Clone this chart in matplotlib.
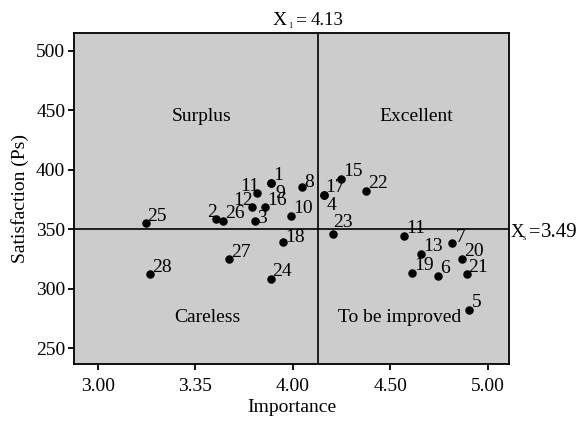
import numpy as np
import matplotlib
matplotlib.use('Agg')
import matplotlib.pyplot as plt
import matplotlib.transforms as mtransforms

# importance-performance data
labels = ['25', '2', '26', '12', '11', '1', '9', '16', '3', '10', '8', '17', '4',
          '15', '22', '23', '18', '27', '28', '24',
          '11', '7', '13', '20', '19', '6', '21', '5']
importance = [3.245, 3.605, 3.641, 3.789, 3.815, 3.888, 3.888, 3.857, 3.805, 3.990,
              4.047, 4.158, 4.158, 4.248, 4.377, 4.207, 3.948, 3.675, 3.268, 3.886,
              4.570, 4.817, 4.659, 4.869, 4.614, 4.746, 4.891, 4.906]
satisfaction = [355.0, 358.3, 356.9, 368.4, 380.2, 388.9, 388.9, 368.4, 357.2, 361.4,
                385.5, 378.8, 378.8, 392.2, 382.4, 346.3, 339.6, 324.8, 312.2, 308.5,
                344.3, 338.5, 329.2, 325.3, 313.5, 311.0, 312.2, 282.4]

x_mean = 4.13
y_line = 350
xtick_pos = [3.0, 3.5, 4.0, 4.5, 5.0]
xtick_labels = ['3.00', '3.35', '4.00', '4.50', '5.00']
ytick_pos = [250, 300, 350, 400, 450, 500]

quadrants = ['Surplus', 'Excellent', 'Careless', 'To be improved']
quad_x = [3.534, 4.635, 3.564, 4.547]
quad_y = [445, 444.5, 275.5, 276]

plt.rcParams['font.family'] = ['Liberation Serif', 'DejaVu Serif']
fs = 14
PX = 0.72  # points per pixel at dpi 100

fig = plt.figure(figsize=(5.82, 4.22), dpi=100)
ax = fig.add_axes([0.1277, 0.1367, 0.7469, 0.7844])
ax.set_facecolor('#cccccc')

ax.axvline(x_mean, color='black', lw=1.2, zorder=1)
ax.axhline(y_line, color='black', lw=1.2, zorder=1)

ax.scatter(importance, satisfaction, s=26, color='black', zorder=3)

# label offsets in points (ha, dx, dy) - default upper right of the dot
special = {6: ('left', 3, -10.5), 12: ('left', 2, -10.5), 4: ('right', 1.5, 2),
           3: ('right', 1, 1.5), 1: ('right', 1, 2), 8: ('left', 2, -2),
           10: ('left', 1.5, 0), 16: ('left', 2, 0), 15: ('left', 0, 5),
           21: ('left', 3, 0.5)}
for i, lab in enumerate(labels):
    ha, dx, dy = special.get(i, ('left', 1.5, 2))
    ax.annotate(lab, (importance[i], satisfaction[i]), xytext=(dx, dy),
                textcoords='offset points', ha=ha, va='baseline', fontsize=fs,
                zorder=4)

for q, qx, qy in zip(quadrants, quad_x, quad_y):
    ax.text(qx, qy, q, ha='center', va='center', fontsize=fs)

ax.set_xlim(2.88, 5.109)
ax.set_ylim(236.6, 514.6)
ax.set_xticks(xtick_pos)
ax.set_xticklabels(xtick_labels)
ax.set_yticks(ytick_pos)
ax.tick_params(direction='out', length=4.5, width=1.3, labelsize=fs, pad=2)
ax.tick_params(axis='x', pad=5)
for sp in ax.spines.values():
    sp.set_linewidth(1.3)

ax.set_xlabel('Importance', fontsize=fs, labelpad=3)
ax.set_ylabel('Satisfaction (Ps)', fontsize=fs, labelpad=5)


def line_label(xy, coords, y0, pieces):
    # "X", tiny subscript, "= value" placed piece by piece (offsets in pixels)
    for txt, dx, dy, size in pieces:
        ax.annotate(txt, xy, xycoords=coords, xytext=(dx * PX, (y0 + dy) * PX),
                    textcoords='offset points', ha='left', va='baseline',
                    fontsize=size, annotation_clip=False)


trans_top = mtransforms.blended_transform_factory(ax.transData, ax.transAxes)
line_label((x_mean, 1.0), trans_top, 8,
           [('X', -45.5, 0, 14), ('1', -30, -2.5, 6), ('=', -23, 0, 14),
            ('4.13', -7, 0, 13.5)])
trans_right = mtransforms.blended_transform_factory(ax.transAxes, ax.transData)
line_label((1.0, y_line), trans_right, -7.5,
           [('X', 2, 0, 13.5), ('s', 14, -3, 6), ('=', 19.5, 0, 14.5),
            ('3.49', 32, 0, 15)])

fig.savefig('out.png', dpi=100)
